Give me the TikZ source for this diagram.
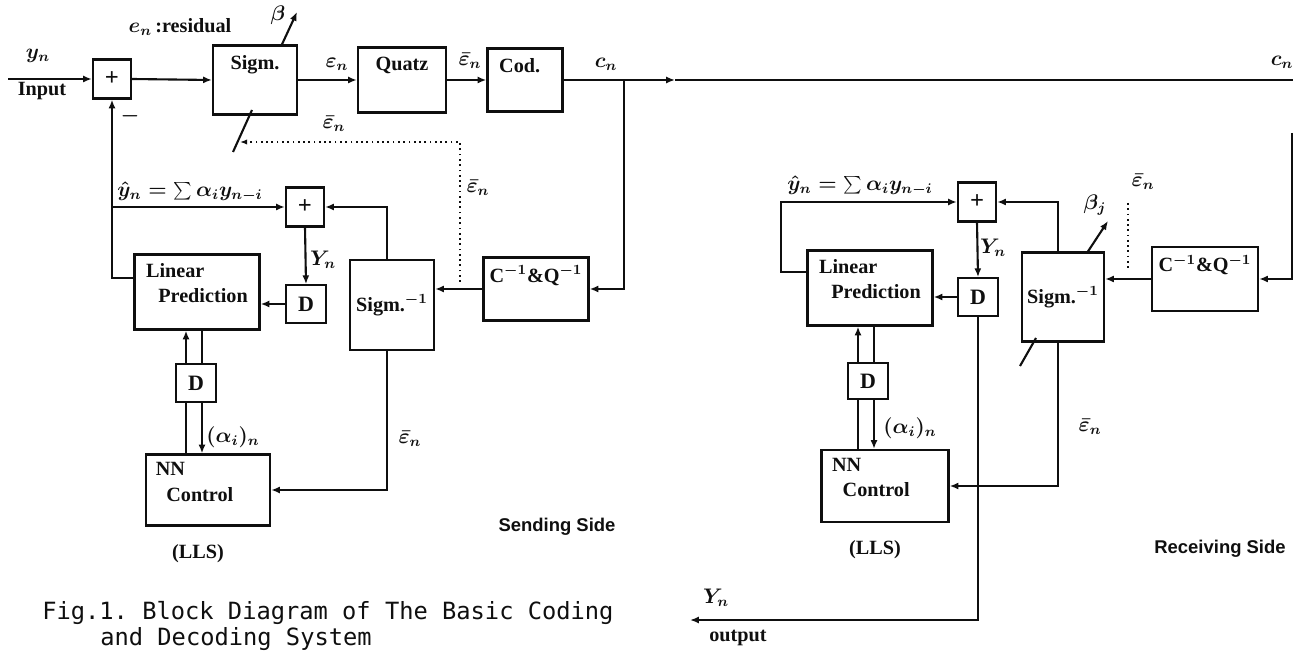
\documentclass[tikz,border=0pt]{standalone}
\usepackage{fontspec}
\setmainfont{Liberation Serif}
\setsansfont{Liberation Sans}
\setmonofont{DejaVu Sans Mono}
\usetikzlibrary{arrows.meta,positioning,calc}
\definecolor{BdInk}{RGB}{15,15,15}
\tikzset{
  bd/box/.style={
    draw=BdInk,
    line width=1.3pt,
    fill=white,
    align=center,
    text=BdInk,
    inner sep=1pt,
    font={\bfseries\boldmath\fontsize{11.5}{14}\selectfont}
  },
  bd/sum/.style={bd/box, minimum width=0.76cm, minimum height=0.78cm, font={\bfseries\fontsize{14}{14}\selectfont}},
  bd/delay/.style={bd/box, minimum width=0.8cm, minimum height=0.75cm, font={\bfseries\fontsize{12.5}{14}\selectfont}},
  bd/intext/.style={
    text=BdInk,
    inner sep=1pt,
    align=left,
    font={\bfseries\boldmath\fontsize{11.5}{14.5}\selectfont}
  },
  bd/arrow/.style={-{Latex[length=5pt,width=4pt]}, line width=1.2pt, draw=BdInk},
  bd/line/.style={line width=1.2pt, draw=BdInk},
  bd/dotarrow/.style={-{Latex[length=4pt,width=3pt]}, line width=1pt, dotted, draw=BdInk},
  bd/math/.style={font={\bfseries\boldmath\fontsize{11.5}{12}\selectfont}, text=BdInk, inner sep=1pt},
  bd/side/.style={font={\sffamily\bfseries\fontsize{10.5}{12}\selectfont}, text=BdInk},
  bd/caption/.style={font={\ttfamily\fontsize{13.5}{16}\selectfont}, text=BdInk, anchor=base west, inner sep=0pt}
}

\begin{document}
\begin{tikzpicture}[x=0.02cm,y=-0.02cm]
  \useasboundingbox (0,0) rectangle (1293,651);
  % sending side
  \node[bd/sum] (sum1) at (112,79) {+};
  \node[bd/box,minimum width=1.68cm,minimum height=1.38cm,label={[bd/intext,anchor=north,yshift=-5pt]north:Sigm.}] (sigm) at (255,80) {};
  \node[bd/box,minimum width=1.76cm,minimum height=1.3cm,label={[bd/intext,anchor=north,yshift=-5pt]north:Quatz}] (quatz) at (402,80) {};
  \node[bd/box,minimum width=1.5cm,minimum height=1.26cm,label={[bd/intext,anchor=north,yshift=-5pt,xshift=-3pt]north:Cod.}] (cod) at (525,80) {};
  \node[bd/box,minimum width=2.1cm,minimum height=1.26cm,label={[bd/intext,anchor=north,yshift=-4pt]north:{C$^{-1}$\&Q$^{-1}$}}] (scq) at (536,289) {};
  \node[bd/box,minimum width=1.68cm,minimum height=1.8cm] (sinv) at (392,305) {Sigm.$^{-1}$};
  \node[bd/sum] (sum2) at (305,207) {+};
  \node[bd/delay] (d1) at (306,304) {D};
  \node[bd/box,minimum width=2.5cm,minimum height=1.5cm,label={[bd/intext,anchor=north west,xshift=6pt,yshift=-4.5pt]north west:{Linear\\\hspace{7pt}Prediction}}] (lp) at (197,292) {};
  \node[bd/delay] (d2) at (196,383) {D};
  \node[bd/box,minimum width=2.48cm,minimum height=1.42cm,label={[bd/intext,anchor=north west,xshift=5pt,yshift=-4pt]north west:{NN\\\hspace{6pt}Control}}] (nn) at (208,490) {};

  \coordinate (yin) at (8,79);
  \coordinate (cjoin) at (624,80);
  \coordinate (cmid) at (675,80);
  \coordinate (cend) at (1293,80);
  \coordinate (betaS) at (297,12);
  \coordinate (slashA) at (252,110);
  \coordinate (slashB) at (233,152);
  \coordinate (dotA) at (460,282);
  \coordinate (dotB) at (460,142);
  \coordinate (dotC) at (240,142);
  \coordinate (dlA) at (186,0);
  \coordinate (dlB) at (202,0);

  \draw[bd/arrow] (yin) -- (sum1.west);
  \draw[bd/arrow] (sum1.east) -- (sigm.west);
  \draw[bd/arrow] (sigm.east) -- (quatz.west);
  \draw[bd/arrow] (quatz.east) -- (cod.west);
  \draw[bd/arrow] (cod.east) -- (cmid);
  \draw[bd/line] (cmid) -- (cend);
  \draw[bd/arrow] (cjoin) |- (scq.east);
  \draw[bd/arrow] (scq.west) -- (scq.west -| sinv.east);
  \draw[bd/arrow] ([xshift=-0.1cm]sinv.north) |- (sum2.east);
  \draw[bd/arrow] ([yshift=0.28cm]lp.west) -| (sum1.south);
  \draw[bd/arrow] (sum1.south |- sum2.west) -- (sum2.west);
  \draw[bd/arrow] (sum2.south) -- (d1.north);
  \draw[bd/arrow] (d1.west) -- (d1.west -| lp.east);
  \draw[bd/line] (dlA |- nn.north) -- (dlA |- d2.south);
  \draw[bd/arrow] (dlA |- d2.north) -- (dlA |- lp.south);
  \draw[bd/line] (dlB |- lp.south) -- (dlB |- d2.north);
  \draw[bd/arrow] (dlB |- d2.south) -- (dlB |- nn.north);
  \draw[bd/arrow] ([xshift=-0.1cm]sinv.south) |- (nn.east);
  \draw[bd/arrow] ([xshift=0.54cm]sigm.north) -- (betaS);
  \draw[bd/line] (slashA) -- (slashB);
  \draw[bd/dotarrow] (dotA) -- (dotB) -- (dotC);

  \node[bd/math] (lyin) at (38,56) {$y_n$};
  \node[bd/intext] (linput) at (42,91) {Input};
  \node[bd/math] (lres) at (180,27) {$e_n$\,:residual};
  \node[bd/math] (lbeta) at (278,15) {$\beta$};
  \node[bd/math] (leps) at (337,64) {$\varepsilon_n$};
  \node[bd/math] (lepsq) at (470,61) {$\bar{\varepsilon}_n$};
  \node[bd/math] (lcn) at (606,64) {$c_n$};
  \node[bd/math] (lcnr) at (1282,62) {$c_n$};
  \node[bd/math] (lepsd) at (334,124) {$\bar{\varepsilon}_n$};
  \node[bd/math] (lepsv) at (478,188) {$\bar{\varepsilon}_n$};
  \node[bd/math] (lminus) at (130,116) {$-$};
  \node[bd/math] (lyhat) at (190,192) {$\hat{y}_n=\sum\alpha_i y_{n-i}$};
  \node[bd/math] (lYn) at (323,260) {$Y_n$};
  \node[bd/math] (lalpha) at (233,437) {$(\alpha_i)_n$};
  \node[bd/math] (lepsn) at (410,439) {$\bar{\varepsilon}_n$};
  \node[bd/intext] (llls) at (198,554) {(LLS)};
  \node[bd/side] (lsend) at (557,527) {Sending Side};

  % receiving side
  \node[bd/box,minimum width=2.12cm,minimum height=1.28cm,label={[bd/intext,anchor=north,yshift=-4pt]north:{C$^{-1}$\&Q$^{-1}$}}] (rcq) at (1205,279) {};
  \node[bd/box,minimum width=1.64cm,minimum height=1.78cm] (sinv2) at (1063,297) {Sigm.$^{-1}$};
  \node[bd/sum] (sum3) at (977,202) {+};
  \node[bd/delay] (d3) at (978,297) {D};
  \node[bd/box,minimum width=2.5cm,minimum height=1.5cm,label={[bd/intext,anchor=north west,xshift=6pt,yshift=-4.5pt]north west:{Linear\\\hspace{7pt}Prediction}}] (lp2) at (870,288) {};
  \node[bd/delay,minimum height=0.72cm] (d4) at (868,381) {D};
  \node[bd/box,minimum width=2.54cm,minimum height=1.44cm,label={[bd/intext,anchor=north west,xshift=5.5pt,yshift=-4pt]north west:{NN\\\hspace{6pt}Control}}] (nn2) at (885,486) {};

  \coordinate (rin) at (1292,133);
  \coordinate (rout) at (690,620);
  \coordinate (betaR) at (1108,221);
  \coordinate (slashC) at (1036,338);
  \coordinate (slashD) at (1020,366);
  \coordinate (rdotA) at (1128,203);
  \coordinate (rdotB) at (1128,268);
  \coordinate (dlC) at (858,0);
  \coordinate (dlD) at (874,0);

  \draw[bd/arrow] (rin) |- (rcq.east);
  \draw[bd/arrow] (rcq.west) -- (rcq.west -| sinv2.east);
  \draw[bd/arrow] ([xshift=-0.1cm]sinv2.north) |- (sum3.east);
  \draw[bd/arrow] ([yshift=0.32cm]lp2.west) -- ++(-25,0) |- (sum3.west);
  \draw[bd/arrow] (sum3.south) -- (d3.north);
  \draw[bd/arrow] (d3.west) -- (d3.west -| lp2.east);
  \draw[bd/arrow] (d3.south) |- (rout);
  \draw[bd/line] (dlC |- nn2.north) -- (dlC |- d4.south);
  \draw[bd/arrow] (dlC |- d4.north) -- (dlC |- lp2.south);
  \draw[bd/line] (dlD |- lp2.south) -- (dlD |- d4.north);
  \draw[bd/arrow] (dlD |- d4.south) -- (dlD |- nn2.north);
  \draw[bd/arrow] ([xshift=-0.1cm]sinv2.south) |- (nn2.east);
  \draw[bd/arrow] ([xshift=0.5cm]sinv2.north) -- (betaR);
  \draw[bd/line] (slashC) -- (slashD);
  \draw[bd/line,line width=1pt,dotted] (rdotA) -- (rdotB);

  \node[bd/math] (lyhat2) at (860,186) {$\hat{y}_n=\sum\alpha_i y_{n-i}$};
  \node[bd/math] (lYn2) at (993,248) {$Y_n$};
  \node[bd/math] (lbetaj) at (1095,205) {$\beta_j$};
  \node[bd/math] (lepsr) at (1143,182) {$\bar{\varepsilon}_n$};
  \node[bd/math] (lalpha2) at (910,428) {$(\alpha_i)_n$};
  \node[bd/math] (lepsn2) at (1090,427) {$\bar{\varepsilon}_n$};
  \node[bd/math] (lYout) at (716,598) {$Y_n$};
  \node[bd/intext] (loutput) at (738,638) {output};
  \node[bd/intext] (llls2) at (875,550) {(LLS)};
  \node[bd/side] (lrecv) at (1220,549) {Receiving Side};

  % caption
  \node[bd/caption] (cap1) at (42,619) {Fig.1. Block Diagram of The Basic Coding};
  \node[bd/caption] (cap2) at (100,645) {and Decoding System};
\end{tikzpicture}
\end{document}
